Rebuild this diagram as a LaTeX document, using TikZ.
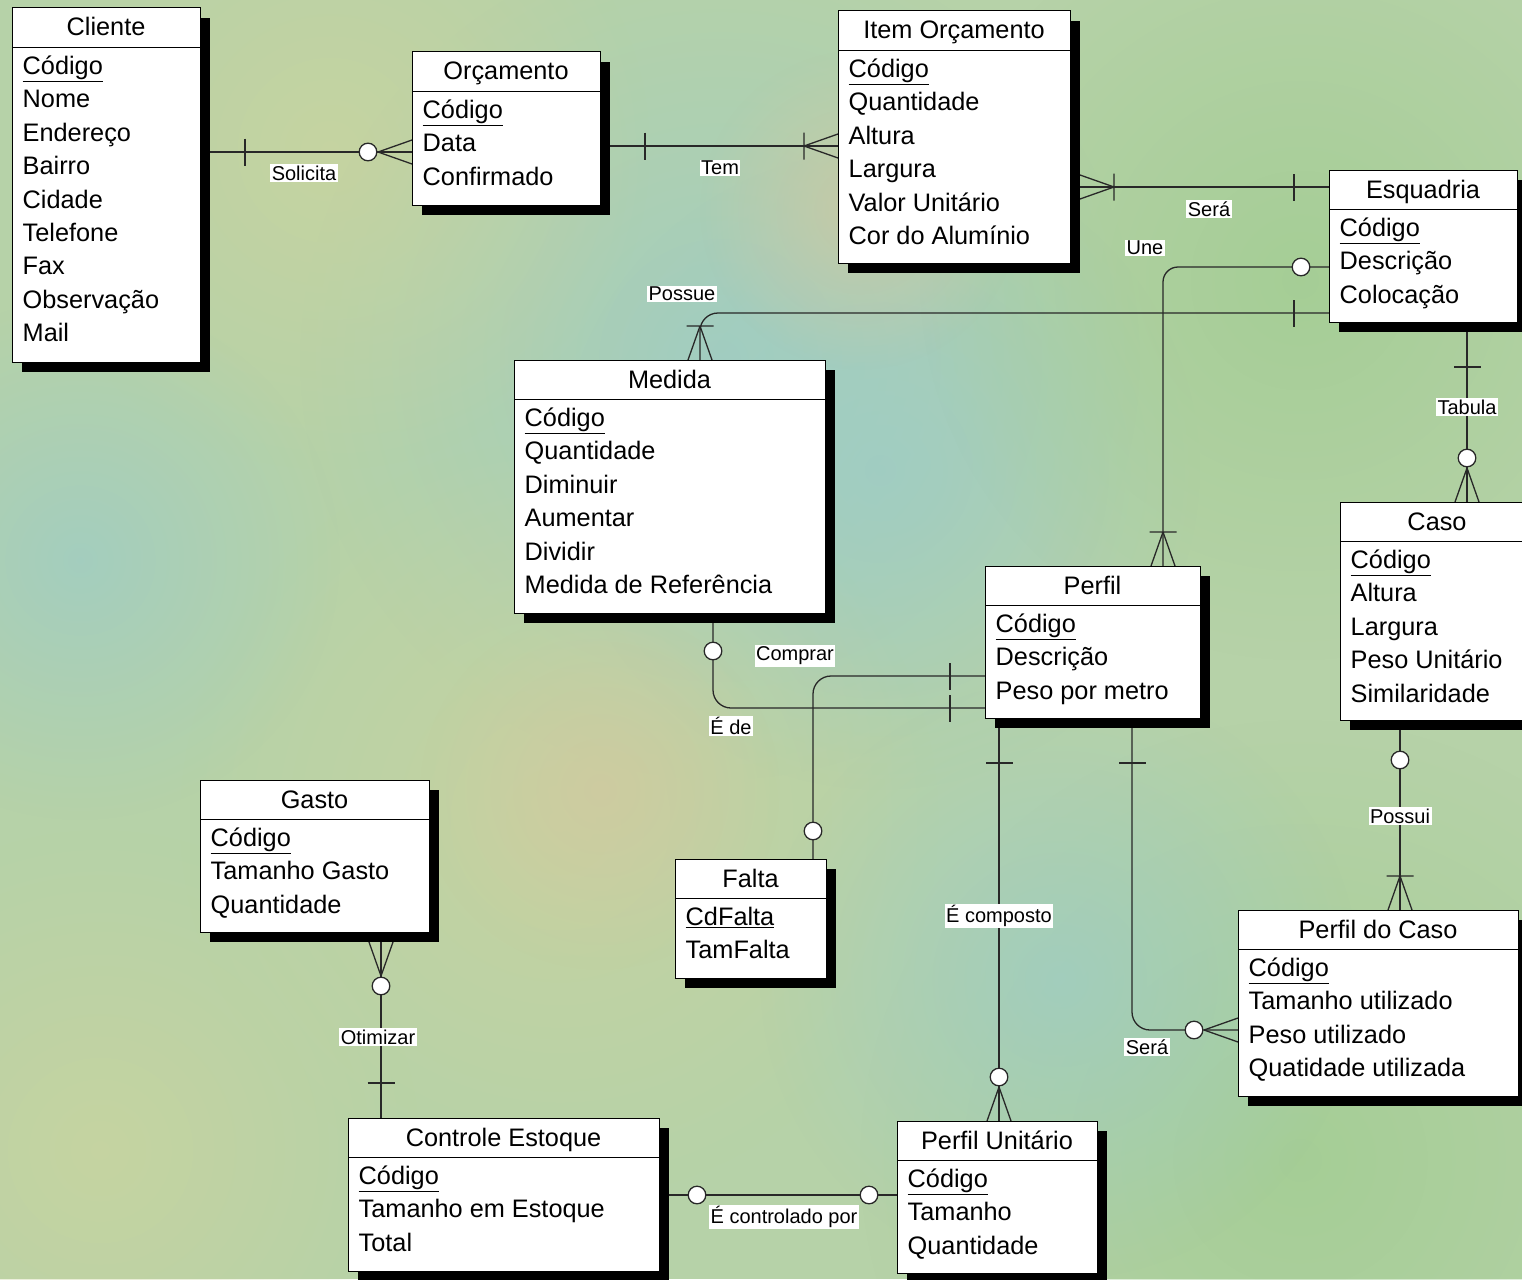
\documentclass[tikz,border=0pt]{standalone}
\usepackage{fontspec}
\setmainfont{Liberation Sans}
\usetikzlibrary{calc,shadows,fadings}
\pgfdeclarelayer{bg}
\pgfdeclarelayer{edges}
\pgfsetlayers{bg,edges,main}
\definecolor{bgc}{RGB}{182,210,168}
\definecolor{bluish}{RGB}{156,204,200}
\definecolor{yellowish}{RGB}{204,212,158}
\definecolor{greener}{RGB}{158,204,142}
\definecolor{pinkish}{RGB}{210,200,160}
\definecolor{linec}{RGB}{40,40,40}
\tikzfading[name=blobfade, inner color=transparent!0, outer color=transparent!100]
\tikzset{
  entbox/.style={draw=black, fill=white, line width=1pt, anchor=north west, inner sep=0pt, outer sep=0pt,
    drop shadow={shadow xshift=10pt, shadow yshift=-10pt, fill=black, opacity=1}},
  sepline/.style={draw=black, line width=1pt},
  etitle/.style={anchor=base, inner sep=0pt, font=\fontsize{25.3}{30}\selectfont},
  eattr/.style={anchor=base west, inner sep=0pt, font=\fontsize{25.3}{30}\selectfont},
  conn/.style={draw=linec, line width=1.3pt},
  lbl/.style={fill=white, inner sep=1.5pt, font=\fontsize{20}{24}\selectfont},
  blob/.style={path fading=blobfade, fill opacity=0.7},
  erbar/.pic={\draw[conn] (35,-13.5) -- (35,13.5);},
  ercirc/.pic={\draw[conn, fill=white] (28,0) circle[radius=8.8];},
  ercircfoot/.pic={\draw[conn] (34,0) -- (0,12) (34,0) -- (0,-12); \draw[conn, fill=white] (44,0) circle[radius=8.8];},
  erbarfoot/.pic={\draw[conn] (34,0) -- (0,12) (34,0) -- (0,-12) (34,-13.5) -- (34,13.5);}
}
\newcommand{\entity}[7]{%
  \node[entbox, minimum width=#4pt, minimum height=#5pt] (#1) at (#2,#3) {};
  \draw[sepline] ([yshift=-39.5pt]#1.north west) -- ([yshift=-39.5pt]#1.north east);
  \node[etitle] (#1-title) at ([yshift=-28pt]#1.north) {#6};
  \foreach \a [count=\i] in {#7} {
    \node[eattr] (#1-a\i) at ([xshift=10.5pt, yshift={-66.5pt-33.4pt*(\i-1)}]#1.north west) {\a};
  }%
}
\begin{document}
\begin{tikzpicture}[x=1pt, y=-1pt]
\useasboundingbox (0,0) rectangle (1522,1279);
\begin{pgfonlayer}{bg}
  \fill[bgc] (0,0) rectangle (1522,1279);
  \fill[bluish, blob] (720,360) circle (420);
  \fill[bluish, blob] (880,470) circle (320);
  \fill[yellowish, blob] (560,820) circle (380);
  \fill[yellowish, blob] (330,150) circle (320);
  \fill[greener, blob] (1300,1160) circle (440);
  \fill[bluish, blob] (1060,980) circle (300);
  \fill[pinkish, blob] (600,790) circle (180);
  \fill[greener, blob] (1300,280) circle (380);
  \fill[yellowish, blob] (100,1150) circle (320);
  \fill[bluish, blob] (80,560) circle (260);
  \fill[pinkish, blob] (860,210) circle (160);
\end{pgfonlayer}

% Entities
\entity{cliente}{12}{8}{188}{354}{Cliente}{\underline{Código},Nome,Endereço,Bairro,Cidade,Telefone,Fax,Observação,Mail}
\entity{orcamento}{412}{52}{188}{153}{Orçamento}{\underline{Código},Data,Confirmado}
\entity{item}{838}{11}{232}{252}{Item Orçamento}{\underline{Código},Quantidade,Altura,Largura,Valor Unitário,Cor do Alumínio}
\entity{esquadria}{1329}{170}{188}{152}{Esquadria}{\underline{Código},Descrição,Colocação}
\entity{medida}{514}{360}{311}{253}{Medida}{\underline{Código},Quantidade,Diminuir,Aumentar,Dividir,Medida de Referência}
\entity{caso}{1340}{502}{194}{218}{Caso}{\underline{Código},Altura,Largura,Peso Unitário,Similaridade}
\entity{perfil}{985}{566}{215}{152}{Perfil}{\underline{Código},Descrição,Peso por metro}
\entity{gasto}{200}{780}{229}{152}{Gasto}{\underline{Código},Tamanho Gasto,Quantidade}
\entity{falta}{675}{859}{151}{119}{Falta}{\underline{CdFalta},TamFalta}
\entity{perfilcaso}{1238}{910}{280}{186}{Perfil do Caso}{\underline{Código},Tamanho utilizado,Peso utilizado,Quatidade utilizada}
\entity{controle}{348}{1118}{311}{153}{Controle Estoque}{\underline{Código},Tamanho em Estoque,Total}
\entity{perfilunit}{897}{1121}{200}{152}{Perfil Unitário}{\underline{Código},Tamanho,Quantidade}

\begin{pgfonlayer}{edges}
% Solicita
\draw[conn] (cliente.east |- 0,152) -- (orcamento.west |- 0,152);
\pic at ($(cliente.east |- 0,152)+(10,0)$) {erbar};
\pic[rotate=180] at (orcamento.west |- 0,152) {ercircfoot};
% Tem
\draw[conn] (orcamento.east |- 0,146) -- (item.west |- 0,146);
\pic at ($(orcamento.east |- 0,146)+(10,0)$) {erbar};
\pic[rotate=180] at (item.west |- 0,146) {erbarfoot};
% Sera (Item - Esquadria)
\draw[conn] (item.east |- 0,187) -- (esquadria.west |- 0,187);
\pic at ($(item.east |- 0,187)+(10,0)$) {erbarfoot};
\pic[rotate=180] at (esquadria.west |- 0,187) {erbar};
% Une
\draw[conn, rounded corners=15pt] (esquadria.west |- 0,267) -| (1163,0 |- perfil.north);
\pic[rotate=180] at (esquadria.west |- 0,267) {ercirc};
\pic[rotate=90] at (1163,0 |- perfil.north) {erbarfoot};
% Possue
\draw[conn, rounded corners=18pt] (esquadria.west |- 0,313) -| (700,0 |- medida.north);
\pic[rotate=180] at (esquadria.west |- 0,313) {erbar};
\pic[rotate=90] at (700,0 |- medida.north) {erbarfoot};
% Tabula
\draw[conn] (1467,0 |- esquadria.south) -- (1467,0 |- caso.north);
\pic[rotate=-90] at ($(1467,0 |- esquadria.south)+(0,10)$) {erbar};
\pic[rotate=90] at (1467,0 |- caso.north) {ercircfoot};
% E de
\draw[conn, rounded corners=18pt] (713,0 |- medida.south) |- (perfil.west |- 0,708);
\pic[rotate=-90] at ($(713,0 |- medida.south)+(0,10)$) {ercirc};
\pic[rotate=180] at (perfil.west |- 0,708) {erbar};
% Comprar
\draw[conn, rounded corners=18pt] (perfil.west |- 0,676) -| (813,0 |- falta.north);
\pic[rotate=180] at (perfil.west |- 0,676) {erbar};
\pic[rotate=90] at (813,0 |- falta.north) {ercirc};
% E composto
\draw[conn] (999,0 |- perfil.south) -- (999,0 |- perfilunit.north);
\pic[rotate=-90] at ($(999,0 |- perfil.south)+(0,10)$) {erbar};
\pic[rotate=90] at (999,0 |- perfilunit.north) {ercircfoot};
% Sera (Perfil - Perfil do Caso)
\draw[conn, rounded corners=18pt] (1132,0 |- perfil.south) |- (perfilcaso.west |- 0,1030);
\pic[rotate=-90] at ($(1132,0 |- perfil.south)+(0,10)$) {erbar};
\pic[rotate=180] at (perfilcaso.west |- 0,1030) {ercircfoot};
% Possui
\draw[conn] (1400,0 |- caso.south) -- (1400,0 |- perfilcaso.north);
\pic[rotate=-90] at ($(1400,0 |- caso.south)+(0,12)$) {ercirc};
\pic[rotate=90] at (1400,0 |- perfilcaso.north) {erbarfoot};
% Otimizar
\draw[conn] (381,0 |- gasto.south) -- (381,0 |- controle.north);
\pic[rotate=-90] at ($(381,0 |- gasto.south)+(0,10)$) {ercircfoot};
\pic[rotate=90] at (381,0 |- controle.north) {erbar};
% E controlado por
\draw[conn] (controle.east |- 0,1195) -- (perfilunit.west |- 0,1195);
\pic at ($(controle.east |- 0,1195)+(10,0)$) {ercirc};
\pic[rotate=180] at (perfilunit.west |- 0,1195) {ercirc};
\end{pgfonlayer}

% Labels
\node[lbl] (l-solicita) at (304,173) {Solicita};
\node[lbl] (l-tem) at (720,168) {Tem};
\node[lbl] (l-sera1) at (1209,209) {Será};
\node[lbl] (l-une) at (1145,248) {Une};
\node[lbl] (l-possue) at (682,294) {Possue};
\node[lbl] (l-tabula) at (1467,407) {Tabula};
\node[lbl] (l-comprar) at (795,656) {Comprar};
\node[lbl] (l-ede) at (731,726) {É de};
\node[lbl] (l-composto) at (999,916) {É composto};
\node[lbl] (l-sera2) at (1147,1047) {Será};
\node[lbl] (l-possui) at (1400,816) {Possui};
\node[lbl] (l-otimizar) at (378,1037) {Otimizar};
\node[lbl] (l-controlado) at (784,1217) {É controlado por};
\end{tikzpicture}
\end{document}
